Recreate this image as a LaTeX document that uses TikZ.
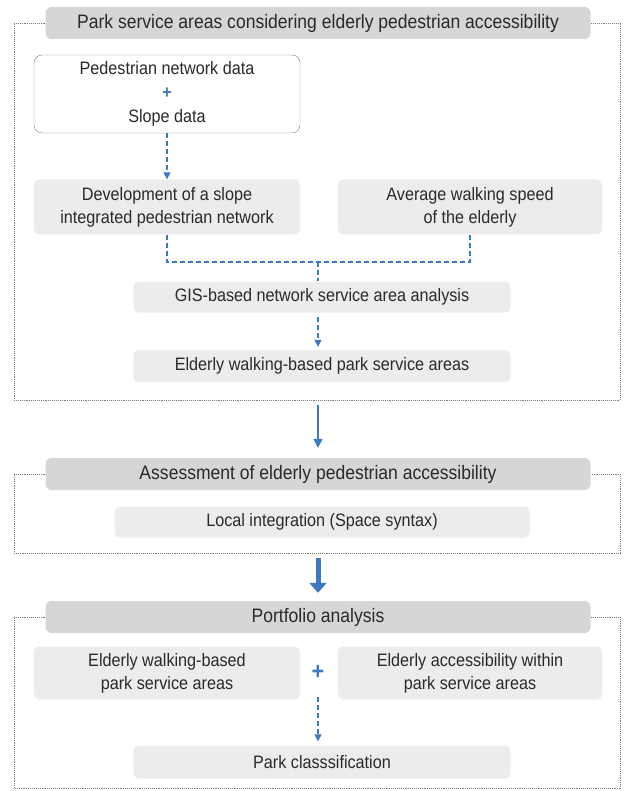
\documentclass[tikz,border=0pt]{standalone}
\usepackage{fontspec}
\setmainfont{Liberation Sans}[FakeStretch=0.9]
\usetikzlibrary{arrows.meta}
\definecolor{titlegray}{HTML}{D6D6D6}
\definecolor{boxgray}{HTML}{ECECEC}
\definecolor{flowblue}{HTML}{3C78C3}
\definecolor{framegray}{HTML}{7A7A7A}
\definecolor{textgray}{HTML}{2A2A2A}

\begin{document}
\begin{tikzpicture}[x=1pt, y=-1pt, >=Stealth,
		title/.style={fill=titlegray, rounded corners=6pt, minimum width=545pt, minimum height=32pt, text=textgray, font=\fontsize{19.5}{22}\selectfont},
		stepbox/.style={fill=boxgray, rounded corners=5pt, align=center, text=textgray, font=\fontsize{18}{23}\selectfont},
		databox/.style={stepbox, fill=white, draw=gray, rounded corners=8pt},
		frame/.style={framegray, densely dotted, line width=0.9pt},
		flow/.style={flowblue, line width=1.5pt, dash pattern=on 5pt off 3pt, -{Triangle[length=7pt, width=7pt]}}]
		\useasboundingbox (0,0) rectangle (625,791);

		% First block: park service areas
		\node[title] (parktitle) at (318,23) {Park service areas considering elderly pedestrian accessibility};
		\node[databox, minimum width=266pt, minimum height=78pt] (data) at (167,94) {Pedestrian network data\\[1pt]{\color{flowblue}\bfseries +}\\[1pt]Slope data};
		\node[stepbox, minimum width=266pt, minimum height=55pt] (network) at (167,207) {Development of a slope\\integrated pedestrian network};
		\node[stepbox, minimum width=264pt, minimum height=55pt] (speed) at (470,207) {Average walking speed\\of the elderly};
		\node[stepbox, minimum width=377pt, minimum height=31pt] (gis) at (322,297) {GIS-based network service area analysis};
		\node[stepbox, minimum width=377pt, minimum height=32pt] (walking) at (322,366) {Elderly walking-based park service areas};
		\coordinate (join) at (318,262);
		\coordinate (endA) at (318,400);
		\draw[frame] (parktitle.west) -- (14,23) -- (14,400) -- (620,400) -- (620,23) -- (parktitle.east);

		\draw[flow] (data.south) -- (network.north);
		\draw[flow, -] (network.south) |- (join) -| (speed.south);
		\draw[flow, -] (join) -- (join |- gis.north);
		\draw[flow, shorten <=4pt, shorten >=3pt] (gis.south -| join) -- (walking.north -| join);

		% Second block: accessibility
		\node[title] (assesstitle) at (318,474) {Assessment of elderly pedestrian accessibility};
		\node[stepbox, minimum width=415pt, minimum height=31pt] (local) at (322,522) {Local integration (Space syntax)};
		\coordinate (endB) at (318,553);
		\draw[frame] (assesstitle.west) -- (14,474) -- (14,553) -- (620,553) -- (620,474) -- (assesstitle.east);

		\draw[flowblue, line width=1.5pt, -{Triangle[length=9pt, width=9pt]}, shorten <=5pt, shorten >=10pt] (endA) -- (assesstitle.north);

		% Third block: portfolio
		\node[title] (porttitle) at (318,617) {Portfolio analysis};
		\node[stepbox, minimum width=266pt, minimum height=53pt] (servicearea) at (167,673) {Elderly walking-based\\park service areas};
		\node[stepbox, minimum width=264pt, minimum height=53pt] (access) at (470,673) {Elderly accessibility within\\park service areas};
		\node[text=flowblue, font=\fontsize{24}{24}\selectfont\bfseries] (plus) at (318,672) {+};
		\node[stepbox, minimum width=377pt, minimum height=33pt] (classes) at (322,762) {Park classsification};
		\draw[frame] (porttitle.west) -- (14,617) -- (14,788) -- (620,788) -- (620,617) -- (porttitle.east);

		\draw[flowblue, line width=5pt, -{Triangle[length=10pt, width=17pt]}, shorten <=5pt, shorten >=8pt] (endB) -- (porttitle.north);
		\draw[flow, shorten <=14pt, shorten >=4pt] (plus.south) -- (plus.south |- classes.north);
	\end{tikzpicture}
\end{document}
